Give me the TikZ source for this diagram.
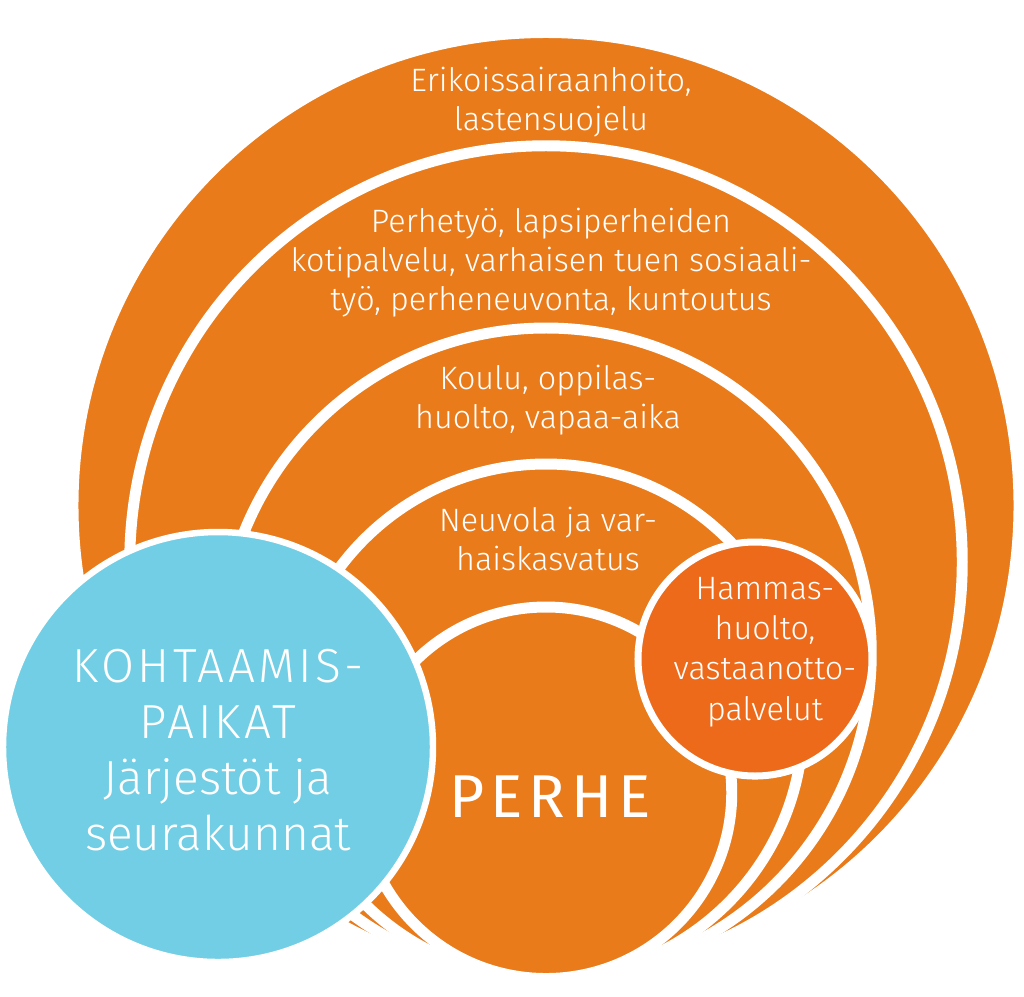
\documentclass[tikz,border=0pt]{standalone}
\usepackage{fontspec}
\setmainfont{Fira Sans Light}
\newfontfamily\perhefont{Fira Sans}[LetterSpace=10]
\definecolor{ringorange}{HTML}{E97B1B}
\definecolor{hammasorange}{HTML}{EC6A1A}
\definecolor{meetblue}{HTML}{72CEE4}
\newcommand\widecaps[1]{{\addfontfeatures{LetterSpace=7}#1}}
\tikzset{
  ring/.style={fill=ringorange,draw=white,line width=7.8pt},
  ringtext/.style={text=white,align=center,anchor=base,inner sep=0pt,font=\fontsize{23}{27.7}\selectfont},
}
\begin{document}
\begin{tikzpicture}[x=0.025cm,y=-0.025cm]
\useasboundingbox (0,0) rectangle (1024,996);
\foreach \cy/\r in {505.5/473,562/416.25,653.25/325.25,721.25/257.25,792.75/185.75}{\draw[ring] (546,\cy) circle (\r);}
\draw[fill=hammasorange,draw=white,line width=5pt] (755,659) circle (117);
\draw[fill=meetblue,draw=white,line width=4.6pt] (218,747) circle (215);
\node[ringtext] (erik) at (551,130) {Erikoissairaanhoito,\\lastensuojelu};
\node[ringtext] (perhetyo) at (551,310) {Perhetyö, lapsiperheiden\\kotipalvelu, varhaisen tuen sosiaali-\\työ, perheneuvonta, kuntoutus};
\node[ringtext] (koulu) at (548,428) {Koulu, oppilas-\\huolto, vapaa-aika};
\node[ringtext] (neuvola) at (548,570) {Neuvola ja var-\\haiskasvatus};
\node[ringtext,font=\fontsize{23}{28.5}\selectfont] (hammas) at (765,720) {Hammas-\\huolto,\\vastaanotto-\\palvelut};
\node[ringtext,font=\fontsize{34}{39.8}\selectfont] (kohtaamis) at (218,850) {\widecaps{KOHTAAMIS-}\\\widecaps{PAIKAT}\\Järjestöt ja\\seurakunnat};
\node[ringtext,font=\perhefont\fontsize{43}{43}\selectfont] (perhe) at (550,817) {PERHE};
\end{tikzpicture}
\end{document}
